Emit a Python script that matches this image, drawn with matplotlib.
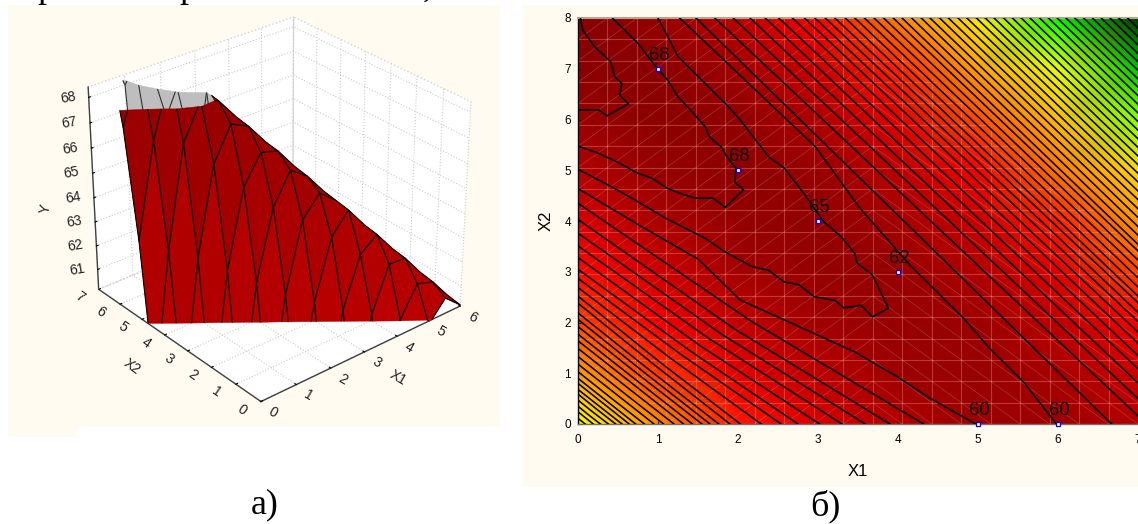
# -*- coding: utf-8 -*-
import matplotlib
matplotlib.use('Agg')
import matplotlib.pyplot as plt
import numpy as np
from matplotlib.collections import LineCollection
from matplotlib.colors import LinearSegmentedColormap, Normalize
from matplotlib.patches import Rectangle
from mpl_toolkits.mplot3d import proj3d
from mpl_toolkits.mplot3d.art3d import Poly3DCollection, Line3DCollection

plt.rcParams['font.family'] = ['Liberation Sans', 'DejaVu Sans']

# ---- panel a: surface, rows are x1 = 0, 0.5 ... 6, columns x2 = 0, 0.5 ... 7
surf_x1 = [0, .5, 1, 1.5, 2, 2.5, 3, 3.5, 4, 4.5, 5, 5.5, 6]
surf_x2 = [0, .5, 1, 1.5, 2, 2.5, 3, 3.5, 4, 4.5, 5, 5.5, 6, 6.5, 7]
surf_z = [
    [10, 15, 20, 25, 30, 34, 38, 42, 50, 57.4, 63.4, 67.6, 70.2, 71, 70.5],
    [14, 18, 23, 28, 33, 36, 40, 49.5, 57.1, 63, 67.1, 69.7, 70.5, 70.3, 69.8],
    [18, 22, 27, 31, 35, 39, 48.6, 56.6, 62.7, 67, 69.4, 70, 69.7, 69, 68],
    [22, 26, 30, 34, 40, 49, 56.5, 62.2, 66.2, 68.4, 68.9, 68.4, 67, 63.5, 56],
    [25, 29, 33, 38, 50, 56.6, 61.7, 65.3, 67.5, 68.14, 68.24, 65, 60, 53, 45],
    [28, 32, 38, 51, 56.7, 61.2, 64.5, 66.4, 67.16, 67.26, 62, 56, 49, 41, 32],
    [32, 38, 51, 56.6, 60.9, 64, 65.7, 66.19, 66.28, 60, 54, 46, 38, 29, 19],
    [38, 51.3, 56.6, 60.6, 63.3, 64.8, 65.2, 65.3, 58, 52, 44, 36, 27, 17, 6],
    [52.2, 56.9, 60.4, 62.6, 64.12, 64.22, 64.32, 56, 49, 41, 32, 23, 13, 2, -9],
    [56.8, 60.2, 62.2, 63.13, 63.23, 60, 55, 48, 40, 31, 22, 12, 1, -11, -23],
    [60, 61.4, 62.16, 62.25, 56, 49, 41, 32, 23, 13, 2, -10, -22, -35, -48],
    [60.8, 61.17, 61.27, 53, 46, 38, 29, 20, 9, -2, -14, -27, -40, -54, -68],
    [60.2, 60.3, 52, 46, 38, 29, 19, 9, -2, -13, -26, -39, -53, -68, -84],
]
z_low = 60.15
z_high = 68.2
x1_ticks = [0, 1, 2, 3, 4, 5, 6]
x2_ticks = [0, 1, 2, 3, 4, 5, 6, 7]
y_ticks = [61, 62, 63, 64, 65, 66, 67, 68]

# ---- panel b: colour field, rows x2 = 0..8, columns x1 = 0..7
field_x1 = [0, 1, 2, 3, 4, 5, 6, 7]
field_x2 = [0, 1, 2, 3, 4, 5, 6, 7, 8]
field_z = [
    [-50, -5, 22, 40, 53, 61, 61, 53],
    [-12, 15, 36, 50, 61, 63, 57, 43],
    [12, 32, 47, 60, 64, 61, 49, 30],
    [25, 43, 58, 65, 64, 54, 37, 12],
    [39, 56, 65, 66, 59, 44, 21, -10],
    [53, 64, 67, 63, 50, 29, 0, -37],
    [63, 68, 66, 55, 37, 10, -24, -67],
    [69, 69, 60, 44, 20, -13, -53, -101],
    [70, 64, 50, 28, -2, -43, -88, -140],
]
color_levels = [-141, -87, -50, -3, 27, 45, 60, 70]
color_values = ['#003000', '#00FF00', '#FFFF00', '#FF8800', '#FF0000',
                '#C80000', '#A00000', '#880000']

# contour lines, (x1, x2)
line_a = [(.03, 8), (.06, 7.76), (.21, 7.43), (.41, 7.14), (.46, 6.84), (.55, 6.71),
          (.52, 6.48), (.63, 6.31), (.36, 6.07), (.26, 6.19), (0, 6.19)]
line_b = [(.43, 8), (.75, 7.5), (.975, 7.04), (1.12, 6.78), (1.25, 6.45), (1.37, 6.25),
          (1.59, 5.86), (1.64, 5.66), (1.79, 5.46), (1.86, 5.27), (1.975, 5.04), (1.96, 4.77),
          (2.07, 4.61), (1.84, 4.27), (1.69, 4.45), (1.47, 4.45), (1.34, 4.51), (1.12, 4.64),
          (.93, 4.84), (.75, 4.94), (.48, 5.17), (.26, 5.33), (0, 5.48)]
line_c = [(1.0, 8), (1.25, 7.24), (1.84, 6.32), (2.03, 5.99), (2.38, 5.27), (2.58, 5.04),
          (2.82, 4.55), (3.07, 3.99), (3.29, 3.69), (3.46, 3.36), (3.49, 3.17), (3.68, 2.94),
          (3.88, 2.28), (3.68, 2.11), (3.54, 2.34), (3.32, 2.29), (3.22, 2.43), (2.95, 2.51),
          (2.77, 2.74), (2.58, 2.8), (2.38, 3.03), (2.18, 3.1), (1.84, 3.39), (1.59, 3.66),
          (1.1, 4.05), (.75, 4.38), (.46, 4.64), (0, 5.02)]
line_d = [(1.27, 8), (2.97, 5.46), (3.51, 4.28), (4.15, 3.13), (4.84, 2.05), (5.14, 1.5),
          (5.58, .81), (5.98, 0)]
line_e = [(0, 4.64), (.73, 3.95), (1.5, 3.25), (2.03, 2.44), (2.72, 1.95), (3.46, 1.42),
          (3.96, .96), (4.4, .51), (4.97, 0)]
line_f = [(1.475, 8), (6.67, 0)]

# lower left family: x2 on the left edge, x2 half way, x1 on the bottom edge
low_left = [4.35, 4.03, 3.76, 3.51, 3.28, 3.05, 2.87, 2.69, 2.52, 2.38, 2.19, 2.06, 1.92, 1.77,
            1.64, 1.49, 1.33, 1.18, 1.03, .90, .80, .68, .59, .47, .35, .24, .11]
low_mid = [2.03, 1.88, 1.77, 1.67, 1.56, 1.47, 1.39, 1.31, 1.23, 1.17, 1.08, 1.02, .95, .88,
           .82, .74, .66, .59, .51, .45, .40, .34, .29, .23, .17, .12, .055]
low_bottom = [4.32, 3.9, 3.59, 3.3, 3.02, 2.75, 2.54, 2.29, 2.03, 1.90, 1.76, 1.65, 1.55, 1.43,
              1.32, 1.20, 1.07, .95, .83, .72, .64, .55, .47, .38, .28, .19, .09]

# upper right family: x1 on the top edge, x2 on the right edge
up_top = [1.71, 1.94, 2.15, 2.34, 2.51, 2.68, 2.83, 2.96, 3.09, 3.21, 3.34, 3.46, 3.58, 3.70,
          3.82, 3.94, 4.05, 4.17, 4.29, 4.40, 4.52, 4.63, 4.75, 4.86, 4.98, 5.09, 5.20, 5.32,
          5.43, 5.54, 5.65, 5.77, 5.88, 5.99, 6.10, 6.21, 6.32, 6.43, 6.54, 6.65, 6.76, 6.87]
up_right = [.16, .50, .81, 1.09, 1.35, 1.59, 1.81, 2.02, 2.20, 2.39, 2.52, 2.70, 2.88, 3.06,
            3.23, 3.41, 3.54, 3.72, 3.89, 4.07, 4.24, 4.42, 4.59, 4.77, 4.94, 5.11, 5.28, 5.45,
            5.62, 5.79, 5.96, 6.13, 6.30, 6.47, 6.64, 6.80, 6.97, 7.14, 7.30, 7.47, 7.63, 7.80]

point_x1 = [1, 2, 3, 4, 5, 6]
point_x2 = [7, 5, 4, 3, 0, 0]
point_labels = ['68', '68', '65', '62', '60', '60']

CREAM = '#FFFBF0'
W, H = 1138, 524


def fig_rect(l, t, r, b):
    return [l / W, 1 - b / H, (r - l) / W, (b - t) / H]


def clip_poly(pts, level, keep_above):
    out = []
    for i in range(len(pts)):
        p, q = pts[i], pts[(i + 1) % len(pts)]
        p_in = p[2] >= level if keep_above else p[2] <= level
        q_in = q[2] >= level if keep_above else q[2] <= level
        if p_in:
            out.append(p)
        if p_in != q_in:
            t = (level - p[2]) / (q[2] - p[2])
            out.append((p[0] + t * (q[0] - p[0]), p[1] + t * (q[1] - p[1]), level))
    return out


def clip_seg(p, q):
    if not (min(p[2], q[2]) <= z_high and max(p[2], q[2]) >= z_low):
        return None
    ends = [p, q]
    for k in (0, 1):
        a, b = ends[k], ends[1 - k]
        for level in (z_low, z_high):
            if (a[2] - level) * (b[2] - level) < 0 and ((level == z_low and a[2] < level)
                                                        or (level == z_high and a[2] > level)):
                t = (level - a[2]) / (b[2] - a[2])
                a = (a[0] + t * (b[0] - a[0]), a[1] + t * (b[1] - a[1]), level)
        ends[k] = a
    return ends


fig = plt.figure(figsize=(W / 100, H / 100), dpi=100, facecolor='white')
for l, t, r, b in [(8, 5, 500, 427), (8, 427, 77, 437), (523, 5, 1138, 487)]:
    fig.add_artist(Rectangle((l / W, 1 - b / H), (r - l) / W, (b - t) / H,
                             transform=fig.transFigure, fc=CREAM, ec='none', zorder=-5))

# ---- a)
ax = fig.add_axes(fig_rect(45, -22, 499, 432), projection='3d', computed_zorder=False)
ax.patch.set_alpha(0)
ax.set_proj_type('persp', focal_length=.8)
ax.view_init(elev=29, azim=-130)
ax.set_box_aspect((1, 1, .88), zoom=.94)
ax.set_xlim(0, 6)
ax.set_ylim(0, 7)
ax.set_zlim(z_low, 68.4)

for axis in (ax.xaxis, ax.yaxis, ax.zaxis):
    axis.set_pane_color((1, 1, 1, 1))
    axis.pane.set_edgecolor('#D4D4D4')
    axis.pane.set_linestyle(':')
    axis._axinfo['grid'].update(color='#CCCCCC', linewidth=.8, linestyle=':')
    axis._axinfo['tick'].update(inward_factor=0, outward_factor=.1)
    axis.line.set_color('#404040')
    axis.line.set_linewidth(1)

ax.set_xticks(x1_ticks)
ax.set_yticks(x2_ticks)
ax.set_zticks(y_ticks)
ax.set_xticklabels([])
ax.set_yticklabels([])
ax.set_zticklabels([])

Z = np.array(surf_z)
M = ax.get_proj()
gx, gy = np.meshgrid(surf_x1, surf_x2, indexing='ij')
sx, sy, _ = proj3d.proj_transform(gx.ravel(), gy.ravel(), Z.ravel(), M)
sx = sx.reshape(Z.shape)
sy = sy.reshape(Z.shape)
cmap_surf = LinearSegmentedColormap.from_list('s', ['#BC0000', '#960000'])

n1, n2 = Z.shape
front = np.zeros((n1 - 1, n2 - 1), dtype=bool)
red_polys, red_cols, gray_polys = [], [], []
for i in range(n1 - 1):
    for j in range(n2 - 1):
        idx = [(i, j), (i + 1, j), (i + 1, j + 1), (i, j + 1)]
        px = [sx[k] for k in idx]
        py = [sy[k] for k in idx]
        area = sum(px[m] * py[(m + 1) % 4] - px[(m + 1) % 4] * py[m] for m in range(4))
        front[i, j] = area > 0
        pts = [(surf_x1[a], surf_x2[b], Z[a, b]) for a, b in idx]
        pts = clip_poly(pts, z_low, True)
        if len(pts) >= 3:
            pts = clip_poly(pts, z_high, False)
        if len(pts) < 3:
            continue
        if front[i, j]:
            red_polys.append(pts)
            red_cols.append(cmap_surf((np.mean([p[2] for p in pts]) - z_low) / (z_high - z_low)))
        else:
            gray_polys.append(pts)

red_segs, gray_segs = [], []
for i in range(n1):
    for j in range(n2):
        for a, b in [(i + 1, j), (i, j + 1)]:
            if a >= n1 or b >= n2:
                continue
            if a == i + 1:
                cells = [(i, j - 1), (i, j)]
            else:
                cells = [(i - 1, j), (i, j)]
            near = False
            for c in cells:
                if 0 <= c[0] < n1 - 1 and 0 <= c[1] < n2 - 1 and front[c]:
                    near = True
            seg = clip_seg((surf_x1[i], surf_x2[j], Z[i, j]), (surf_x1[a], surf_x2[b], Z[a, b]))
            if seg is None:
                continue
            (red_segs if near else gray_segs).append(seg)

ax.add_collection3d(Poly3DCollection(gray_polys, facecolors='#BEBEBE', edgecolors='#BEBEBE',
                                     linewidths=.3, zorder=5))
ax.add_collection3d(Line3DCollection(gray_segs, colors='#303030', linewidths=.8, zorder=6))
ax.add_collection3d(Poly3DCollection(red_polys, facecolors=red_cols, edgecolors=red_cols,
                                     linewidths=.3, zorder=7))
ax.add_collection3d(Line3DCollection(red_segs, colors='black', linewidths=.8, zorder=8))


def tick_label(x, y, z, s, dx, dy, rot):
    # the 3d axis always centres its tick labels, so they are set by hand from the projection
    u, v, _ = proj3d.proj_transform(x, y, z, M)
    ax.annotate(s, (u, v), xytext=(dx, dy), textcoords='offset pixels', ha='center', va='center',
                rotation=rot, fontsize=10, color='#202020', annotation_clip=False)


for v in x1_ticks:
    tick_label(v, 0, z_low, str(v), 12, -11, -30)
for v in x2_ticks:
    tick_label(0, v, z_low, str(v), -19, -8, -35)
for v in y_ticks:
    tick_label(0, 7, v, str(v), -21, 0, 10)

# axis titles of the 3d box
for x, y, s, rot in [(398, 378, 'X1', -30), (132, 367, 'X2', -35), (46, 209, 'Y', 80)]:
    fig.text(x / W, 1 - y / H, s, fontsize=10, rotation=rot, ha='center', va='center',
             color='#202020')

# ---- b)
ax2 = fig.add_axes(fig_rect(578, 18, 1138, 424))
pos = [(v - color_levels[0]) / (color_levels[-1] - color_levels[0]) for v in color_levels]
cmap = LinearSegmentedColormap.from_list('field', list(zip(pos, color_values)))
ax2.pcolormesh(field_x1, field_x2, np.array(field_z), shading='gouraud', cmap=cmap,
               norm=Normalize(color_levels[0], color_levels[-1]))
ax2.set_xlim(0, 7)
ax2.set_ylim(0, 8)

# mesh of the original surface
gr_x = np.linspace(0, 7, 20)
gr_y = np.linspace(0, 8, 20)
band = plt.Polygon([(0, 1.3), (1.2, 0), (7, 0), (7, 3.5), (3.5, 8), (0, 8)],
                   transform=ax2.transData, fc='none', ec='none')
ax2.add_patch(band)
grid_segs = [[(x, 0), (x, 8)] for x in gr_x] + [[(0, y), (7, y)] for y in gr_y]
grid = LineCollection(grid_segs, colors='#FFB0A0', linewidths=.8, alpha=.32, zorder=2)
ax2.add_collection(grid)
grid.set_clip_path(band)
diag_segs = []
for i in range(19):
    for j in range(19):
        if gr_x[i] < 3.6:
            diag_segs.append([(gr_x[i], gr_y[j]), (gr_x[i + 1], gr_y[j + 1])])
        else:
            diag_segs.append([(gr_x[i], gr_y[j + 1]), (gr_x[i + 1], gr_y[j])])
diag = LineCollection(diag_segs, colors='white', linewidths=.5, alpha=.2, zorder=2)
ax2.add_collection(diag)
diag.set_clip_path(band)

lw = 1.15
for pts in (line_a, line_b, line_c, line_d, line_e, line_f):
    xy = np.array(pts)
    ax2.plot(xy[:, 0], xy[:, 1], color='black', lw=lw, zorder=3)
for a, m, c in zip(low_left, low_mid, low_bottom):
    ax2.plot([0, c / 2, c], [a, m, 0], color='black', lw=lw, zorder=3)
for a, c in zip(up_top, up_right):
    ax2.plot([a, 7], [8, c], color='black', lw=lw, zorder=3)

ax2.plot(point_x1, point_x2, ls='none', marker='s', ms=2.2, mfc='white', mec='#0000FF', mew=.9,
         zorder=5, clip_on=False)
for x, y, s in zip(point_x1, point_x2, point_labels):
    ax2.annotate(s, (x, y), xytext=(1, 3.5), textcoords='offset points', ha='center', va='bottom',
                 fontsize=13.3, color='#101010', zorder=6)

ax2.set_xticks(range(8))
ax2.set_yticks(range(9))
ax2.tick_params(direction='in', length=2, width=.8, labelsize=8.5, pad=7, color='#202020')
ax2.tick_params(axis='y', pad=5)
ax2.set_xlabel('X1', fontsize=12, labelpad=13)
ax2.set_ylabel('X2', fontsize=12, labelpad=8)
for s in ax2.spines.values():
    s.set_linewidth(1)
ax2.spines['left'].set_color('black')
ax2.spines['top'].set_color('#B0A890')
ax2.spines['top'].set_linewidth(1.5)
ax2.spines['bottom'].set_color('#707070')
ax2.spines['right'].set_visible(False)

# captions and the cut off line of text above the panels
fig.text(265 / W, 1 - 505 / H, 'а)', family='Liberation Serif', fontsize=26, ha='center',
         va='center')
fig.text(825 / W, 1 - 506 / H, 'б)', family='Liberation Serif', fontsize=26, ha='center',
         va='center')
for x, s in [(46, 'р'), (188, 'р'), (427, ',')]:
    fig.text(x / W, 1 + 3 / H, s, family='Liberation Serif', fontsize=26, ha='center',
             va='baseline')

fig.savefig('out.png', dpi=100, facecolor='white')
